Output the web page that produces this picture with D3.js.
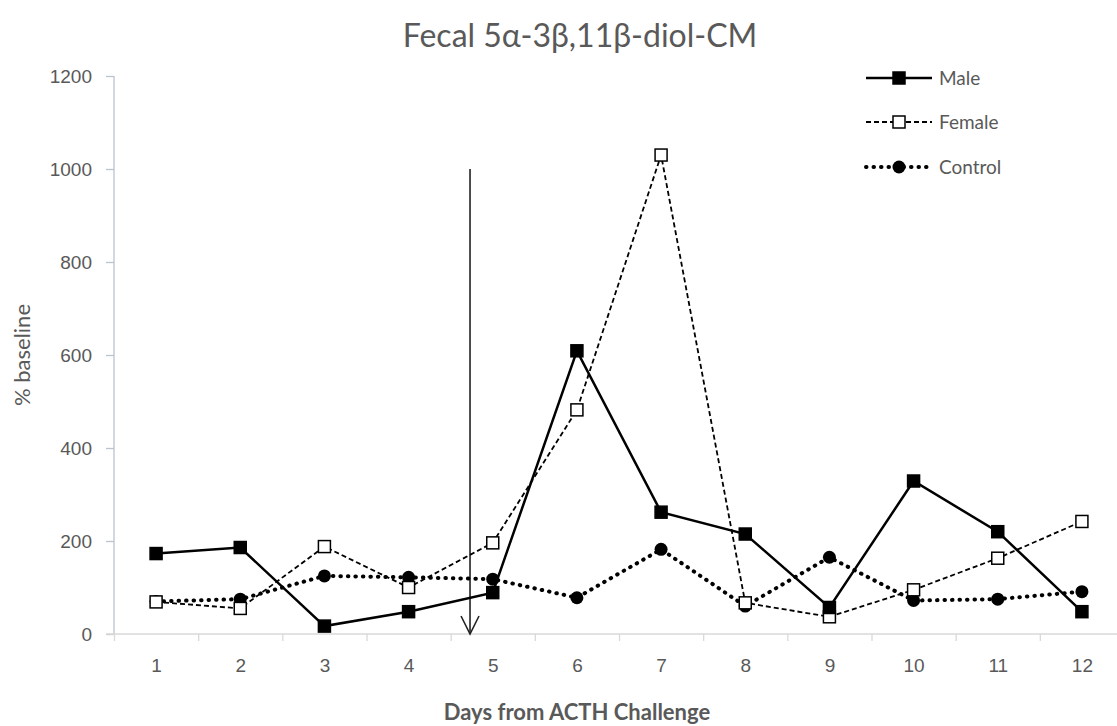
<!DOCTYPE html>
<html>
<head>
<meta charset="utf-8">
<title>Fecal 5α-3β,11β-diol-CM</title>
<script src="https://cdn.jsdelivr.net/npm/d3@7"></script>
<style>
  html, body { margin: 0; padding: 0; background: #fff; }
  svg { display: block; font-family: Lato, "Open Sans", sans-serif; }
  .tick text { fill: #595959; font-size: 19px; }
</style>
</head>
<body>
<svg id="chart" width="1117" height="726"></svg>
<script>
// data
var days = [1, 2, 3, 4, 5, 6, 7, 8, 9, 10, 11, 12];
var male = [173, 186, 17, 48, 89, 609, 262, 215, 57, 329, 220, 48];
var female = [69, 55, 188, 100, 196, 482, 1030, 67, 37, 95, 163, 242];
var control = [70, 75, 125, 122, 118, 78, 182, 60, 165, 72, 75, 91];
var yTicks = [0, 200, 400, 600, 800, 1000, 1200];
var arrowDay = 4.73;   // ACTH challenge marker
var arrowTop = 1000;

var series = [
  { name: 'Male', values: male, dash: null, width: 2.5, marker: 'square', fill: '#000' },
  { name: 'Female', values: female, dash: '5,3', width: 1.8, marker: 'square', fill: '#fff' },
  { name: 'Control', values: control, dash: '0.5,7', width: 4, marker: 'circle', fill: '#000' }
];

var svg = d3.select('#chart');
var textColor = '#595959';

var x = d3.scaleLinear().domain([0.5, 12.5]).range([114, 1124]);
var y = d3.scaleLinear().domain([0, 1200]).range([634, 76]);

// title
svg.append('text')
  .attr('x', 580).attr('y', 47)
  .attr('text-anchor', 'middle')
  .attr('fill', textColor)
  .style('font-size', '32px')
  .text('Fecal 5α-3β,11β-diol-CM');

// y axis
var yAxis = svg.append('g')
  .attr('transform', 'translate(114,0)')
  .call(d3.axisLeft(y).tickValues(yTicks).tickSize(8).tickPadding(14).tickFormat(d3.format('d')));
yAxis.selectAll('line, path').attr('stroke', '#bcc3cf').attr('stroke-width', 1.3);
yAxis.select('.domain').attr('d', 'M0,' + y(1200) + 'V' + y(0));

// x axis: labels on days, tick marks between days
var xAxis = svg.append('g')
  .attr('transform', 'translate(0,634)')
  .call(d3.axisBottom(x).tickValues(days).tickSize(0).tickPadding(25).tickFormat(d3.format('d')));
xAxis.select('.domain').attr('stroke', '#d9d9d9').attr('stroke-width', 1.3).attr('d', 'M106,0H1117');

var bounds = days.map(function (d) { return d - 0.5; });
svg.append('g')
  .attr('transform', 'translate(0,634)')
  .call(d3.axisBottom(x).tickValues(bounds).tickSize(7).tickFormat(''))
  .call(function (g) { g.select('.domain').remove(); })
  .selectAll('line').attr('stroke', '#d9d9d9').attr('stroke-width', 1.3);

// axis titles
svg.append('text')
  .attr('transform', 'translate(30,355) rotate(-90)')
  .attr('text-anchor', 'middle')
  .attr('fill', textColor)
  .style('font-size', '22px')
  .text('% baseline');

svg.append('text')
  .attr('x', 577).attr('y', 720)
  .attr('text-anchor', 'middle')
  .attr('fill', textColor)
  .style('font-size', '22px')
  .style('font-weight', 'bold')
  .text('Days from ACTH Challenge');

// arrow marking the challenge
var ax = x(arrowDay);
svg.append('line')
  .attr('x1', ax).attr('x2', ax)
  .attr('y1', y(arrowTop)).attr('y2', y(0))
  .attr('stroke', '#222').attr('stroke-width', 1.6);
svg.append('path')
  .attr('d', 'M' + (ax - 9) + ',' + (y(0) - 18) + 'L' + ax + ',' + y(0) + 'L' + (ax + 9) + ',' + (y(0) - 18))
  .attr('fill', 'none').attr('stroke', '#222').attr('stroke-width', 1.6);

var line = d3.line()
  .x(function (d, i) { return x(days[i]); })
  .y(function (d) { return y(d); });

function drawMarker(g, s, cx, cy) {
  if (s.marker === 'square') {
    g.append('rect')
      .attr('x', cx - 6).attr('y', cy - 6)
      .attr('width', 12).attr('height', 12)
      .attr('fill', s.fill).attr('stroke', '#000').attr('stroke-width', 1.5);
  } else {
    g.append('circle')
      .attr('cx', cx).attr('cy', cy).attr('r', 6.5)
      .attr('fill', s.fill);
  }
}

// draw control first, then female, male on top
series.slice().reverse().forEach(function (s) {
  var g = svg.append('g');
  g.append('path')
    .datum(s.values)
    .attr('d', line)
    .attr('fill', 'none')
    .attr('stroke', '#000')
    .attr('stroke-width', s.width)
    .attr('stroke-linecap', s.marker === 'circle' ? 'round' : 'butt')
    .attr('stroke-dasharray', s.dash);
  s.values.forEach(function (v, i) { drawMarker(g, s, x(days[i]), y(v)); });
});

// legend
var legendY = [78, 122, 167];
series.forEach(function (s, i) {
  var g = svg.append('g').attr('transform', 'translate(0,' + legendY[i] + ')');
  g.append('line')
    .attr('x1', 866).attr('x2', 932).attr('y1', 0).attr('y2', 0)
    .attr('stroke', '#000')
    .attr('stroke-width', s.width)
    .attr('stroke-linecap', s.marker === 'circle' ? 'round' : 'butt')
    .attr('stroke-dasharray', s.dash);
  drawMarker(g, s, 899, 0);
  g.append('text')
    .attr('x', 939).attr('y', 7)
    .attr('fill', textColor)
    .style('font-size', '19px')
    .text(s.name);
});
</script>
</body>
</html>
